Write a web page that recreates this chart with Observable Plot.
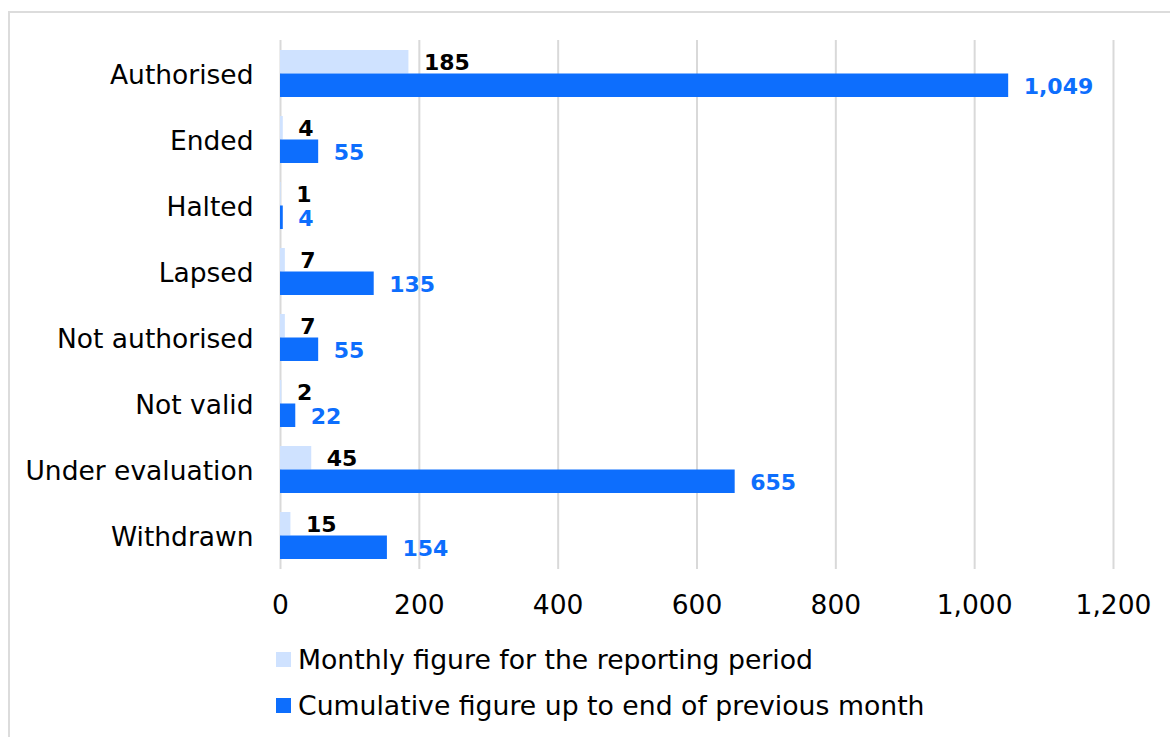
<!DOCTYPE html>
<html>
<head>
<meta charset="utf-8">
<script src="https://cdn.jsdelivr.net/npm/d3@7"></script>
<script src="https://cdn.jsdelivr.net/npm/@observablehq/plot@0.6"></script>
<style>
  html, body { margin: 0; padding: 0; background: #fff; width: 1170px; height: 737px; overflow: hidden; }
  #frame { position: absolute; left: 8px; top: 11px; width: 1300px; height: 900px; border: 2px solid #dcdcdc; box-sizing: border-box; }
  #chart { position: absolute; left: 0; top: 0; }
  #legend { position: absolute; left: 276px; top: 636px; font-family: "DejaVu Sans", sans-serif; font-size: 26.7px; color: #000; }
  .item { display: flex; align-items: center; height: 46px; }
  .sw { width: 15px; height: 15px; margin-right: 7px; }
</style>
</head>
<body>
<div id="frame"></div>
<div id="chart"></div>
<div id="legend"></div>
<script>
const categories = ["Authorised", "Ended", "Halted", "Lapsed", "Not authorised", "Not valid", "Under evaluation", "Withdrawn"];
const monthly = [185, 4, 1, 7, 7, 2, 45, 15];
const cumulative = [1049, 55, 4, 135, 55, 22, 655, 154];
const seriesNames = ["Monthly figure for the reporting period", "Cumulative figure up to end of previous month"];
const seriesColors = ["#cfe2ff", "#0d6efd"];
const labelColors = ["#000000", "#0d6efd"];
const xTicks = [0, 200, 400, 600, 800, 1000, 1200];

const monthlyData = categories.map((c, i) => ({category: c, value: monthly[i]}));
const cumulativeData = categories.map((c, i) => ({category: c, value: cumulative[i]}));
const fmt = d3.format(",");

const chart = Plot.plot({
  width: 1170,
  height: 640,
  marginLeft: 280,
  marginRight: 57,
  marginTop: 40,
  marginBottom: 71,
  style: {fontFamily: "'DejaVu Sans', sans-serif", fontSize: "26.5px", color: "#000", background: "transparent"},
  x: {domain: [0, 1200], ticks: xTicks, tickFormat: fmt, tickSize: 0, tickPadding: 26, label: null},
  y: {domain: categories, paddingInner: 0.288, paddingOuter: 0.1515, label: null},
  marks: [
    Plot.ruleX(xTicks, {stroke: "#d9d9d9", strokeWidth: 2}),
    Plot.axisY({tickSize: 0, tickPadding: 27, dy: 2, label: null}),
    Plot.barX(monthlyData, {x: "value", y: "category", fill: seriesColors[0], insetBottom: 23.5}),
    Plot.barX(cumulativeData, {x: "value", y: "category", fill: seriesColors[1], insetTop: 23.5}),
    Plot.text(monthlyData, {x: "value", y: "category", text: d => fmt(d.value), dx: 15, dy: -11, textAnchor: "start", fill: labelColors[0], fontWeight: "bold", fontSize: 22, fontFamily: "DejaVu Sans"}),
    Plot.text(cumulativeData, {x: "value", y: "category", text: d => fmt(d.value), dx: 15, dy: 13, textAnchor: "start", fill: labelColors[1], fontWeight: "bold", fontSize: 22, fontFamily: "DejaVu Sans"})
  ]
});
document.getElementById("chart").appendChild(chart);

const legend = document.getElementById("legend");
seriesNames.forEach((n, i) => {
  const item = document.createElement("div");
  item.className = "item";
  const sw = document.createElement("span");
  sw.className = "sw";
  sw.style.background = seriesColors[i];
  const t = document.createElement("span");
  t.textContent = n;
  item.appendChild(sw);
  item.appendChild(t);
  legend.appendChild(item);
});
</script>
</body>
</html>
